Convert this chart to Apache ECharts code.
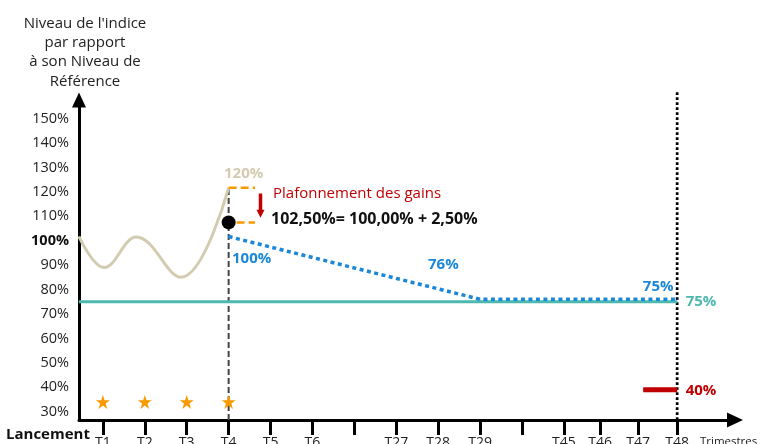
<!DOCTYPE html>
<html>
<head>
<meta charset="utf-8">
<script src="https://cdn.jsdelivr.net/npm/echarts@6/dist/echarts.min.js"></script>
<style>
  html, body { margin: 0; padding: 0; background: #fff; }
  #chart { width: 760px; height: 444px; }
</style>
</head>
<body>
<div id="chart"></div>
<script>
// quarters on the time axis (position in quarter slots) and their labels
const quarterPos = [1, 2, 3, 4, 5, 6, 7, 8, 9, 10, 11, 12, 12.86, 13.77, 14.7];
const quarterLabels = ['T1', 'T2', 'T3', 'T4', 'T5', 'T6', '', 'T27', 'T28', 'T29', '', 'T45', 'T46', 'T47', 'T48'];
const yTicks = [30, 40, 50, 60, 70, 80, 90, 100, 110, 120, 130, 140, 150];

// index path before the first observation
const indexX = [0.43, 1.03, 1.8, 2.86, 4];
const indexY = [101.7, 89, 101.5, 85, 121.7];

// capped level, then decreasing reference level
const capX = [4, 10, 14.7];
const capY = [101.7, 76, 76];

const floorX = [0.43, 14.7];
const floorY = [75, 75];

const barrierX = [13.89, 14.7];
const barrierY = [39, 39];

const capDot = [4, 107.5];
const starX = [1, 2, 3, 4];
const starY = 34;

const yMin = 26.6, yMax = 157.6;
const xMin = 0.43, xMax = 16.08;

const FONT = 'Open Sans';
const BLUE = '#1a87d7';
const BEIGE = '#d3cbb0';
const TEAL = '#4cb8ae';
const RED = '#c00000';
const ORANGE = '#f99a00';

const STAR = 'path://M50,0 L61.8,35.4 L99,35.4 L69,57.3 L80.4,92.7 L50,70.8 L19.6,92.7 L31,57.3 L1,35.4 L38.2,35.4 Z';

function pairs(xs, ys) {
  return xs.map((x, i) => [x, ys[i]]);
}

function pct(text, color, position, extra) {
  return Object.assign({
    show: true, formatter: text, position: position, color: color,
    fontWeight: 'bold', fontSize: 15, fontFamily: FONT
  }, extra || {});
}

const chart = echarts.init(document.getElementById('chart'));

const indexData = pairs(indexX, indexY);
indexData[indexData.length - 1] = {
  value: indexData[indexData.length - 1],
  label: pct('120%', BEIGE, 'top', { offset: [15, -1] })
};

const capData = pairs(capX, capY);
capData[0] = { value: capData[0], label: pct('100%', BLUE, 'bottom', { offset: [23, 9] }) };
capData[capData.length - 1] = { value: capData[capData.length - 1], label: pct('75%', BLUE, 'top', { offset: [-19, 0] }) };

const floorData = pairs(floorX, floorY);
floorData[1] = { value: floorData[1], label: pct('75%', TEAL, 'right', { distance: 8 }) };

const barrierData = pairs(barrierX, barrierY);
barrierData[1] = { value: barrierData[1], label: pct('40%', RED, 'right', { distance: 8, offset: [0, 1] }) };

function line(name, data, color, width, type, z, extra) {
  return Object.assign({
    name: name,
    type: 'line',
    data: data,
    symbol: 'circle',
    symbolSize: 1,
    showSymbol: true,
    showAllSymbol: true,
    itemStyle: { color: color },
    lineStyle: { color: color, width: width, type: type },
    emphasis: { disabled: true },
    z: z
  }, extra || {});
}

chart.setOption({
  animation: false,
  textStyle: { fontFamily: FONT },
  grid: {
    left: 79,
    right: 25,
    top: 100,
    bottom: 24,
    containLabel: false,
    outerBoundsMode: 'none'
  },
  xAxis: {
    type: 'value',
    min: xMin,
    max: xMax,
    splitLine: { show: false },
    axisLine: {
      symbol: ['none', 'triangle'],
      symbolSize: [15, 16],
      lineStyle: { color: '#000', width: 3 }
    },
    axisTick: {
      customValues: quarterPos,
      length: 15,
      lineStyle: { color: '#000', width: 3 }
    },
    axisLabel: {
      customValues: quarterPos,
      margin: 16,
      color: '#222',
      fontSize: 14,
      fontFamily: FONT,
      formatter: v => quarterLabels[quarterPos.indexOf(v)] || ''
    }
  },
  yAxis: {
    type: 'value',
    min: yMin,
    max: yMax,
    name: "Niveau de l'indice\npar rapport\nà son Niveau de\nRéférence",
    nameLocation: 'end',
    nameGap: 9,
    nameTextStyle: {
      color: '#222',
      fontSize: 15,
      fontFamily: FONT,
      lineHeight: 19.3,
      align: 'center',
      verticalAlign: 'bottom',
      padding: [0, 0, 0, 12]
    },
    splitLine: { show: false },
    axisLine: {
      show: true,
      symbol: ['none', 'triangle'],
      symbolSize: [14, 15],
      lineStyle: { color: '#000', width: 3 }
    },
    axisTick: { show: false },
    axisLabel: {
      customValues: yTicks,
      margin: 10,
      color: '#222',
      fontSize: 14.5,
      fontFamily: FONT,
      formatter: v => v === 100 ? '{b|100%}' : v + '%',
      rich: { b: { fontWeight: 'bold', fontSize: 14.5, fontFamily: FONT, color: '#111' } }
    }
  },
  graphic: [
    { type: 'text', left: 6, top: 427, style: { text: 'Lancement', fill: '#111', font: 'bold 15px "Open Sans"' } },
    { type: 'text', left: 700, top: 436, style: { text: 'Trimestres', fill: '#222', font: '11.5px "Open Sans"' } },
    { type: 'text', left: 273, top: 186, style: { text: 'Plafonnement des gains', fill: RED, font: '15px "Open Sans"' } },
    { type: 'text', left: 271, top: 211, style: { text: '102,50%= 100,00% + 2,50%', fill: '#111', font: 'bold 16px "Open Sans"' } },
    { type: 'text', left: 428, top: 257, style: { text: '76%', fill: BLUE, font: 'bold 15px "Open Sans"' } }
  ],
  series: [
    line('T48', [[14.7, yMin], [14.7, 161.7]], '#000', 2.7, [2.7, 2.3], 1, { clip: false, symbol: 'none' }),
    line('T4', [[4, yMin], [4, 121.7]], '#444', 2, [6, 3], 1, { symbol: 'none' }),
    line('Barrière', floorData, TEAL, 3, 'solid', 2),
    line('Indice', indexData, BEIGE, 3, 'solid', 3, { smooth: 0.4 }),
    line('Niveau', capData, BLUE, 3.5, [4, 3.5], 4),
    line('Protection', barrierData, RED, 5, 'solid', 4),
    line('Plafond haut', [[4, 121.7], [4.63, 121.7]], ORANGE, 2.5, [8, 4], 4, { symbol: 'none' }),
    line('Plafond bas', [[4.19, capDot[1]], [4.63, capDot[1]]], ORANGE, 2.5, [8, 4], 4, { symbol: 'none' }),
    line('Flèche', [
      { value: [4.76, 119.3], symbol: 'none' },
      { value: [4.76, 111], symbol: 'triangle', symbolSize: [8, 8], symbolRotate: 180 }
    ], RED, 3.5, 'solid', 5),
    {
      name: 'Niveau plafonné',
      type: 'scatter',
      data: [capDot],
      symbolSize: 14,
      itemStyle: { color: '#000', opacity: 1 },
      emphasis: { disabled: true },
      z: 6
    },
    {
      name: 'Observations',
      type: 'scatter',
      data: starX.map(x => [x, starY]),
      symbol: STAR,
      symbolSize: 14,
      itemStyle: { color: ORANGE, opacity: 1 },
      emphasis: { disabled: true },
      z: 6
    }
  ]
});
</script>
</body>
</html>
